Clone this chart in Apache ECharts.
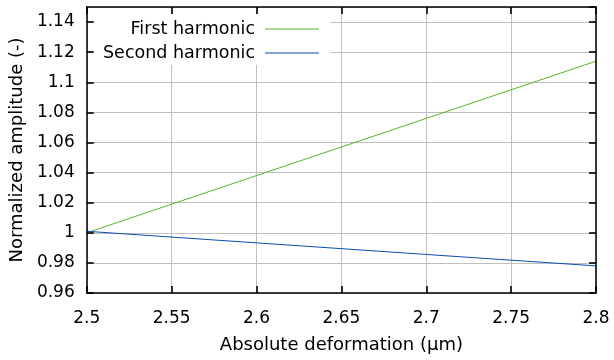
<!DOCTYPE html>
<html><head><meta charset="utf-8">
<script src="https://cdn.jsdelivr.net/npm/echarts@6/dist/echarts.min.js"></script>
<style>html,body{margin:0;padding:0;background:#fff}#c{width:614px;height:360px}</style>
</head><body><div id="c"></div>
<script>
var xValues = [2.5, 2.6, 2.7, 2.8];
var firstHarmonic = [1.000, 1.038, 1.076, 1.114];
var secondHarmonic = [1.001, 0.9933, 0.9856, 0.978];
var seriesNames = ['First harmonic', 'Second harmonic'];
var xTitle = 'Absolute deformation (\u03bcm)';
var yTitle = 'Normalized amplitude (-)';

var font = 'DejaVu Sans';
function pairs(ys){ return xValues.map(function(x,i){ return [x, ys[i]]; }); }
var chart = echarts.init(document.getElementById('c'), null, {renderer:'canvas'});
function tickStyle(){ return {show:true, inside:true, length:7, lineStyle:{color:'#000', width:1.6}}; }
function lineBlack(){ return {show:true, onZero:false, lineStyle:{color:'#000', width:1.5}}; }
function grey(){ return {show:true, lineStyle:{color:'#c0c0c0', width:1}}; }
function xr(){ return {type:'value', min:2.5, max:2.8, interval:0.05}; }
function yr(){ return {type:'value', min:0.96, max:1.15, interval:0.02}; }
function ext(a,b){ for(var k in b)a[k]=b[k]; return a; }
chart.setOption({
  animation:false,
  textStyle:{fontFamily:font},
  grid:{left:85, right:18, top:7, bottom:67},
  legend:{
    orient:'vertical', right:284, top:14, align:'right',
    backgroundColor:'#fff', padding:[5,11,2,10], itemGap:4,
    itemWidth:54, itemHeight:1, icon:'rect', z:1,
    textStyle:{fontFamily:font, fontSize:17.5, color:'#000', lineHeight:20, padding:[0,5,0,0]},
    data:seriesNames
  },
  xAxis:[ext(xr(),{
    z:6,
    name:xTitle, nameLocation:'middle', nameGap:43,
    nameTextStyle:{fontFamily:font, fontSize:18, color:'#000'},
    axisLine:lineBlack(), axisTick:tickStyle(),
    axisLabel:{fontFamily:font, fontSize:17, color:'#000', margin:17},
    splitLine:{show:false}
  }), ext(xr(),{
    position:'top', z:6,
    axisLine:lineBlack(), axisTick:tickStyle(), axisLabel:{show:false}, splitLine:{show:false}
  }), ext(xr(),{
    position:'bottom', z:0,
    axisLine:{show:false}, axisTick:{show:false}, axisLabel:{show:false}, splitLine:grey()
  })],
  yAxis:[ext(yr(),{
    z:6,
    name:yTitle, nameLocation:'middle', nameGap:56, nameRotate:90,
    nameTextStyle:{fontFamily:font, fontSize:18, color:'#000'},
    axisLine:lineBlack(), axisTick:tickStyle(),
    axisLabel:{fontFamily:font, fontSize:17, color:'#000', margin:12, showMaxLabel:false,
      formatter:function(v){ return String(+v.toFixed(2)); }},
    splitLine:{show:false}
  }), ext(yr(),{
    position:'right', z:6,
    axisLine:lineBlack(), axisTick:tickStyle(), axisLabel:{show:false}, splitLine:{show:false}
  }), ext(yr(),{
    position:'left', z:0,
    axisLine:{show:false}, axisTick:{show:false}, axisLabel:{show:false}, splitLine:grey()
  })],
  series:[{
    name:seriesNames[0], type:'line', data:pairs(firstHarmonic), showSymbol:false, z:2,
    color:'#58b52a', lineStyle:{width:1, color:'#58b52a'}
  },{
    name:seriesNames[1], type:'line', data:pairs(secondHarmonic), showSymbol:false, z:2,
    color:'#0c4cb0', lineStyle:{width:1, color:'#0c4cb0'}
  }]
});
</script></body></html>
